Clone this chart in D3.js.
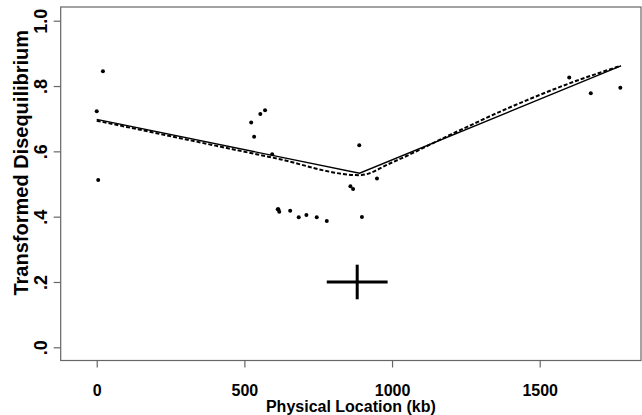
<!DOCTYPE html>
<html><head><meta charset="utf-8">
<script src="https://cdn.jsdelivr.net/npm/d3@7"></script>
<style>body{margin:0;background:#fff}svg{display:block}text{font-family:"Liberation Sans",Arial,sans-serif;font-weight:bold;fill:#000}</style>
</head><body>
<svg id="c" width="642" height="415"></svg>
<script>
// Data
const xTicks = [0, 500, 1000, 1500];
const yTicks = [0, 0.2, 0.4, 0.6, 0.8, 1.0];
const yTickLabels = [".0", ".2", ".4", ".6", ".8", "1.0"];
const pointKb = [0, 21, 5, 523, 533, 554, 570, 594, 615, 613, 618, 655, 684, 710, 745, 779, 859, 868, 889, 898, 949, 1600, 1673, 1773];
const pointVal = [0.723, 0.845, 0.512, 0.688, 0.645, 0.714, 0.726, 0.591, 0.423, 0.423, 0.415, 0.418, 0.398, 0.405, 0.398, 0.387, 0.493, 0.485, 0.619, 0.399, 0.517, 0.826, 0.778, 0.795];
const solidKb = [0, 890, 1775];
const solidVal = [0.698, 0.533, 0.862];
const dashedKb = [0, 300, 600, 890, 1000, 1200, 1400, 1600, 1775];
const dashedVal = [0.694, 0.637, 0.580, 0.527, 0.566, 0.652, 0.735, 0.808, 0.862];
const crossKb = 882, crossVal = 0.2, crossHalfKb = 103, crossHalfVal = 0.053;

const svg = d3.select("#c");
const L = 60.7, R = 641, T = 7, B = 360.5;
const x = d3.scaleLinear().domain([-122, 1843]).range([L, R]);
const y = d3.scaleLinear().domain([-0.0404, 1.042]).range([B, T]);

// frame
svg.append("rect").attr("x", L).attr("y", T).attr("width", R - L).attr("height", B - T)
  .attr("fill", "none").attr("stroke", "#666").attr("stroke-width", 1.2);

// x axis
const xa = svg.append("g").attr("transform", `translate(0,${B})`)
  .call(d3.axisBottom(x).tickValues(xTicks).tickSize(7).tickPadding(17).tickFormat(d3.format("d")));
xa.select(".domain").remove();
xa.selectAll("line").attr("stroke", "#666").attr("stroke-width", 1.2);
xa.selectAll("text").attr("font-size", 16).attr("font-family", "Liberation Sans, Arial, sans-serif").attr("font-weight", "bold").attr("fill", "#000");

// y axis
const ya = svg.append("g").attr("transform", `translate(${L},0)`)
  .call(d3.axisLeft(y).tickValues(yTicks).tickSize(7).tickFormat((d, i) => yTickLabels[i]));
ya.select(".domain").remove();
ya.selectAll("line").attr("stroke", "#666").attr("stroke-width", 1.2);
ya.selectAll("text").attr("font-size", 18).attr("font-family", "Liberation Sans, Arial, sans-serif").attr("font-weight", "bold").attr("fill", "#000")
  .attr("x", null).attr("dy", null).attr("text-anchor", "middle")
  .attr("transform", "translate(-14,0) rotate(-90)");

// titles
svg.append("text").attr("x", (L + R) / 2).attr("y", 412).attr("text-anchor", "middle").attr("font-size", 16).text("Physical Location (kb)");
svg.append("text").attr("transform", `translate(28,${(T + B) / 2 - 21}) rotate(-90)`).attr("text-anchor", "middle").attr("font-size", 20).text("Transformed Disequilibrium");

// lines
const line = d3.line().x(d => x(d[0])).y(d => y(d[1]));
svg.append("path").datum(solidKb.map((k, i) => [k, solidVal[i]])).attr("d", line)
  .attr("fill", "none").attr("stroke", "#000").attr("stroke-width", 1.4);
svg.append("path").datum(dashedKb.map((k, i) => [k, dashedVal[i]])).attr("d", d3.line().curve(d3.curveMonotoneX).x(d => x(d[0])).y(d => y(d[1])))
  .attr("fill", "none").attr("stroke", "#000").attr("stroke-width", 2).attr("stroke-dasharray", "4,2");

// points
svg.append("g").selectAll("circle").data(pointKb.map((k, i) => [k, pointVal[i]])).join("circle")
  .attr("cx", d => x(d[0])).attr("cy", d => y(d[1])).attr("r", 2).attr("fill", "#000");

// cross
const cg = svg.append("g").attr("stroke", "#000").attr("stroke-width", 3);
cg.append("line").attr("x1", x(crossKb - crossHalfKb)).attr("x2", x(crossKb + crossHalfKb)).attr("y1", y(crossVal)).attr("y2", y(crossVal));
cg.append("line").attr("x1", x(crossKb)).attr("x2", x(crossKb)).attr("y1", y(crossVal - crossHalfVal)).attr("y2", y(crossVal + crossHalfVal));
</script>
</body></html>
